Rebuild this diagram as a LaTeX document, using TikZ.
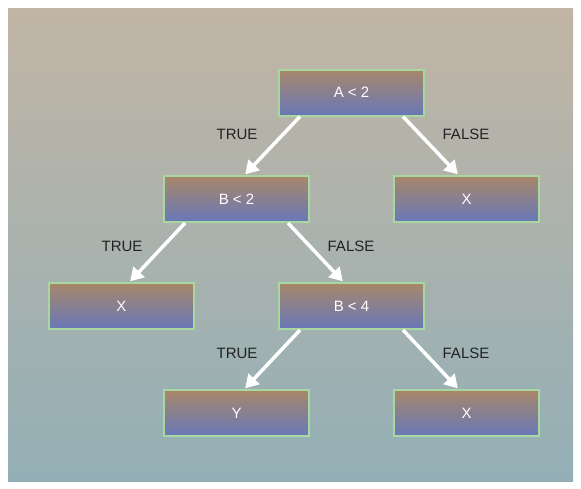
\documentclass[tikz,border=0pt]{standalone}
\usepackage{fontspec}
\setmainfont{Liberation Sans}
\usetikzlibrary{arrows.meta}
\definecolor{bgtop}{HTML}{C1B5A5}
\definecolor{bgbot}{HTML}{93AFB6}
\definecolor{boxtop}{HTML}{A8876A}
\definecolor{boxbot}{HTML}{6878B8}
\definecolor{boxline}{HTML}{A8D8A0}
\definecolor{lbl}{HTML}{222222}
\tikzset{
  box/.style={draw=boxline, line width=2pt, top color=boxtop, bottom color=boxbot,
    minimum width=145pt, minimum height=46pt, inner sep=0pt, text=white,
    font=\fontsize{15}{17}\selectfont},
  arr/.style={draw=white, line width=3.5pt, -{Triangle[length=13pt,width=15pt]}, shorten >=1pt},
  lab/.style={text=lbl, font=\fontsize{15}{17}\selectfont, inner sep=0pt}
}
\begin{document}
\begin{tikzpicture}[x=1pt,y=-1pt]
\useasboundingbox (0,0) rectangle (581,488);
\shade[top color=bgtop, bottom color=bgbot] (8,8) rectangle (573,481);
\node[box] (a) at (351.5,92.5) {A < 2};
\node[box] (b) at (236.5,199) {B < 2};
\node[box] (x1) at (466.5,199) {X};
\node[box] (x2) at (121.5,306) {X};
\node[box] (c) at (351.5,306) {B < 4};
\node[box] (y) at (236.5,413) {Y};
\node[box] (x3) at (466.5,413) {X};
\draw[arr] ([xshift=22pt]a.south west) -- ([xshift=8pt]b.north);
\draw[arr] ([xshift=-22pt]a.south east) -- ([xshift=-8pt]x1.north);
\draw[arr] ([xshift=22pt]b.south west) -- ([xshift=8pt]x2.north);
\draw[arr] ([xshift=-22pt]b.south east) -- ([xshift=-8pt]c.north);
\draw[arr] ([xshift=22pt]c.south west) -- ([xshift=8pt]y.north);
\draw[arr] ([xshift=-22pt]c.south east) -- ([xshift=-8pt]x3.north);
\node[lab] (t1) at (237,134) {TRUE};
\node[lab] (f1) at (466,134) {FALSE};
\node[lab] (t2) at (122,246) {TRUE};
\node[lab] (f2) at (351,246) {FALSE};
\node[lab] (t3) at (237,353) {TRUE};
\node[lab] (f3) at (466,353) {FALSE};
\end{tikzpicture}
\end{document}
